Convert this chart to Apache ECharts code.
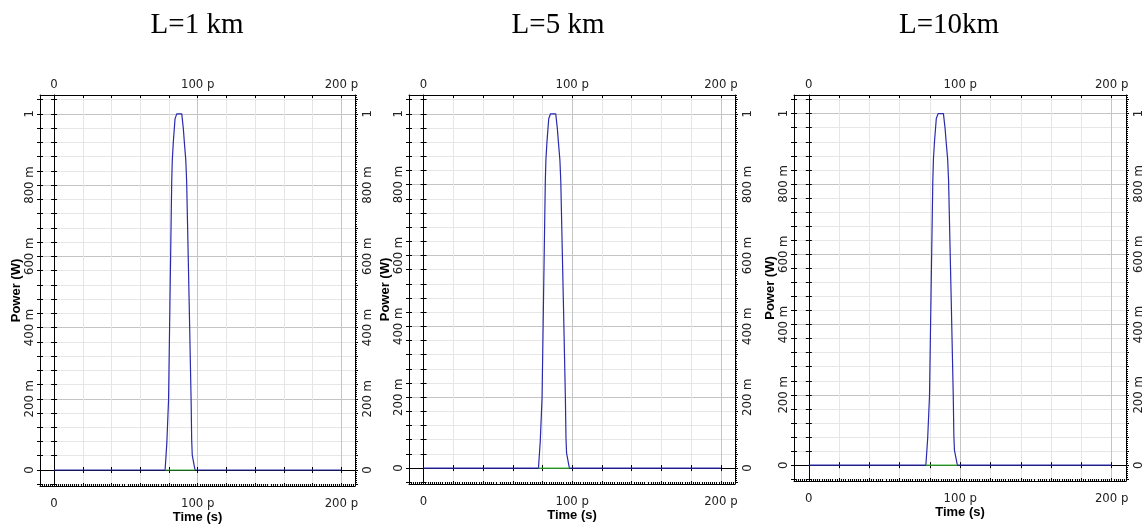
<!DOCTYPE html>
<html><head><meta charset="utf-8">
<script src="https://cdn.jsdelivr.net/npm/echarts@6/dist/echarts.min.js"></script>
<style>html,body{margin:0;padding:0;background:#fff}#c{width:1144px;height:527px}</style>
</head><body><div id="c"></div>
<script>
// ---------------- data ----------------
const panelTitles = ['L=1 km', 'L=5 km', 'L=10km'];
// time in ps, power in W (blue trace)
const timeBlue = [0, 77.3, 78.5, 79.7, 80.7, 81.9, 82.3, 83.0, 84.2, 85.4, 88.9, 90.0, 90.7, 91.7, 92.3, 94.0, 95.4, 95.8, 96.2, 98.1, 200];
const powerL1  = [0, 0, 0.076, 0.197, 0.48, 0.81, 0.87, 0.92, 0.986, 1.0, 1.0, 0.958, 0.92, 0.87, 0.81, 0.48, 0.197, 0.084, 0.042, 0, 0];
const powerL5  = [0, 0, 0.076, 0.197, 0.48, 0.81, 0.87, 0.92, 0.986, 1.0, 1.0, 0.958, 0.92, 0.87, 0.81, 0.48, 0.197, 0.084, 0.042, 0, 0];
const powerL10 = [0, 0, 0.076, 0.197, 0.48, 0.81, 0.87, 0.92, 0.986, 1.0, 1.0, 0.958, 0.92, 0.87, 0.81, 0.48, 0.197, 0.084, 0.042, 0, 0];
// green trace (near zero under the pulse)
const timeGreen  = [77.3, 98.1];
const powerGreen = [0, 0];
// tick labels
const xLabelValues = [0, 100, 200];
const xLabelTexts  = ['0', '100 p', '200 p'];
const yLabelValues = [0, 0.2, 0.4, 0.6, 0.8, 1];
const yLabelTexts  = ['0', '200 m', '400 m', '600 m', '800 m', '1'];
const xMajorGrid = [100, 200];
const yMajorGrid = [0.2, 0.4, 0.6, 0.8, 1];

// ---------------- layout ----------------
const X_MIN = -9.8, X_MAX = 209.5, Y_MIN = -0.045, Y_MAX = 1.053;
const grids = [
  {left: 40,  top: 95, width: 315, height: 391},
  {left: 409, top: 95, width: 326, height: 389},
  {left: 794, top: 95, width: 332, height: 386}
];
const titleX = [197, 558, 949];
const powers = [powerL1, powerL5, powerL10];

const xTicks = []; for (let i = 0; i <= 10; i++) xTicks.push(i * 20);
const yTicks = []; for (let i = -1; i <= 26; i++) yTicks.push(Math.round(i * 4) / 100);

const LABEL_FONT = "'Liberation Sans Narrow','Arial Narrow','DejaVu Sans Condensed',sans-serif";
const labelStyle = {fontFamily: LABEL_FONT, fontSize: 13, color: '#222'};
const nameStyle = {fontFamily: "'Liberation Sans',Arial,sans-serif", fontSize: 13, fontWeight: 'bold', color: '#000'};
const MINOR = '#e6e6e6', MAJOR = '#c4c4c4';

function lookup(vals, texts) {
  return function (v) {
    for (let i = 0; i < vals.length; i++) if (Math.abs(vals[i] - v) < 1e-9) return texts[i];
    return '';
  };
}
function baseAxis(g, isX) {
  return {
    gridIndex: g, type: 'value',
    min: isX ? X_MIN : Y_MIN, max: isX ? X_MAX : Y_MAX,
    axisLine: {show: true, onZero: false, lineStyle: {color: '#000', width: 1}},
    axisTick: {show: false},
    axisLabel: {show: false},
    splitLine: {show: false},
    minorTick: {show: false},
    minorSplitLine: {show: false}
  };
}
function merge(a, b) {
  const r = Object.assign({}, a);
  for (const k in b) {
    if (b[k] && typeof b[k] === 'object' && !Array.isArray(b[k]) && a[k] && typeof a[k] === 'object') r[k] = Object.assign({}, a[k], b[k]);
    else r[k] = b[k];
  }
  return r;
}

const xAxes = [], yAxes = [], series = [];
grids.forEach((gr, g) => {
  const xb = xAxes.length, yb = yAxes.length;
  // x axes
  xAxes.push(merge(baseAxis(g, true), { // 0 bottom frame
    position: 'bottom',
    axisTick: {show: true, inside: true, length: 3, customValues: xTicks, lineStyle: {color: '#000'}},
    minorTick: {show: true, splitNumber: 35, length: 2, lineStyle: {color: '#000'}},
    axisLabel: {show: true, customValues: xLabelValues, formatter: lookup(xLabelValues, xLabelTexts), margin: 11, ...labelStyle},
    splitLine: {show: true, lineStyle: {color: MINOR, width: 1}},
    name: 'Time (s)', nameLocation: 'middle', nameGap: 25, nameMoveOverlap: false, nameTextStyle: nameStyle
  }));
  xAxes.push(merge(baseAxis(g, true), { // 1 top frame
    position: 'top',
    axisTick: {show: true, inside: true, length: 3, customValues: xTicks, lineStyle: {color: '#000'}},
    axisLabel: {show: true, customValues: xLabelValues, formatter: lookup(xLabelValues, xLabelTexts), margin: 4, ...labelStyle}
  }));
  xAxes.push(merge(baseAxis(g, true), { // 2 zero axis ticks up
    position: 'bottom',
    axisLine: {show: true, onZero: true, onZeroAxisIndex: yb, lineStyle: {color: '#000'}},
    axisTick: {show: true, inside: true, length: 3, customValues: xTicks, lineStyle: {color: '#000'}}
  }));
  xAxes.push(merge(baseAxis(g, true), { // 3 zero axis ticks down
    position: 'bottom',
    axisLine: {show: false, onZero: true, onZeroAxisIndex: yb + 2},
    axisTick: {show: true, inside: false, length: 3, customValues: xTicks, lineStyle: {color: '#000'}}
  }));
  xAxes.push(merge(baseAxis(g, true), { // 4 major grid
    position: 'bottom',
    axisLine: {show: false, onZero: false},
    axisTick: {show: false, customValues: xMajorGrid},
    splitLine: {show: true, lineStyle: {color: MAJOR, width: 1}}
  }));
  // y axes
  yAxes.push(merge(baseAxis(g, false), { // 0 left frame
    position: 'left',
    axisTick: {show: true, inside: false, length: 3, customValues: yTicks, lineStyle: {color: '#000'}},
    axisLabel: {show: true, rotate: 90, customValues: yLabelValues, formatter: lookup(yLabelValues, yLabelTexts), margin: 4, ...labelStyle},
    splitLine: {show: true, lineStyle: {color: MINOR, width: 1}},
    name: 'Power (W)', nameLocation: 'middle', nameGap: 17, nameRotate: 90, nameMoveOverlap: false, nameTextStyle: nameStyle
  }));
  yAxes.push(merge(baseAxis(g, false), { // 1 left frame inner ticks
    position: 'left',
    axisLine: {show: false, onZero: false},
    axisTick: {show: true, inside: true, length: 3, customValues: yTicks, lineStyle: {color: '#000'}}
  }));
  yAxes.push(merge(baseAxis(g, false), { // 2 right frame
    position: 'right',
    axisTick: {show: true, inside: false, length: 3, customValues: yTicks, lineStyle: {color: '#000'}},
    minorTick: {show: true, splitNumber: 35, length: 2, lineStyle: {color: '#000'}},
    axisLabel: {show: true, rotate: 90, customValues: yLabelValues, formatter: lookup(yLabelValues, yLabelTexts), margin: 6, ...labelStyle}
  }));
  yAxes.push(merge(baseAxis(g, false), { // 3 zero axis ticks right
    position: 'left',
    axisLine: {show: true, onZero: true, onZeroAxisIndex: xb, lineStyle: {color: '#000'}},
    axisTick: {show: true, inside: true, length: 3, customValues: yTicks, lineStyle: {color: '#000'}}
  }));
  yAxes.push(merge(baseAxis(g, false), { // 4 zero axis ticks left
    position: 'left',
    axisLine: {show: false, onZero: true, onZeroAxisIndex: xb + 1},
    axisTick: {show: true, inside: false, length: 3, customValues: yTicks, lineStyle: {color: '#000'}}
  }));
  yAxes.push(merge(baseAxis(g, false), { // 5 major grid
    position: 'left',
    axisLine: {show: false, onZero: false},
    axisTick: {show: false, customValues: yMajorGrid},
    splitLine: {show: true, lineStyle: {color: MAJOR, width: 1}}
  }));

  series.push({
    type: 'line', xAxisIndex: xb, yAxisIndex: yb, showSymbol: false, symbol: 'none', z: 3,
    data: timeBlue.map((t, i) => [t, powers[g][i]]),
    lineStyle: {color: '#2a2aae', width: 1.2}
  });
  series.push({
    type: 'line', xAxisIndex: xb, yAxisIndex: yb, showSymbol: false, symbol: 'none', z: 4,
    data: timeGreen.map((t, i) => [t, powerGreen[i]]),
    lineStyle: {color: '#3cb83c', width: 1.2}
  });
});

const chart = echarts.init(document.getElementById('c'), null, {renderer: 'canvas'});
chart.setOption({
  animation: false,
  backgroundColor: '#fff',
  grid: grids.map(g => Object.assign({containLabel: false, outerBoundsMode: 'none', show: false}, g)),
  xAxis: xAxes,
  yAxis: yAxes,
  series: series,
  graphic: panelTitles.map((t, i) => ({
    type: 'text', x: titleX[i], y: 25,
    style: {text: t, fontFamily: "'Liberation Serif','Times New Roman',serif", fontSize: 29, fill: '#000', align: 'center', verticalAlign: 'middle'}
  }))
});
</script></body></html>
